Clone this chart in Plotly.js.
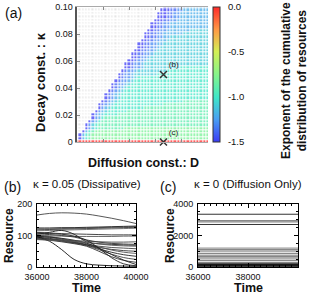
<!DOCTYPE html>
<html><head><meta charset="utf-8">
<script src="https://cdn.plot.ly/plotly-3.0.1.min.js"></script>
<style>html,body{margin:0;padding:0;background:#fff}#chart{width:310px;height:299px}</style>
</head><body><div id="chart"></div>
<script>
// ---------------- data ----------------
const kappaTickVals = [0, 0.02, 0.04, 0.06, 0.08, 0.10];
const kappaTickText = ['0', '0.02', '0.04', '0.06', '0.08', '0.10'];
const dTickVals = [0.2, 0.4, 0.6, 0.8];
const dStart = 0, dStep = 0.025, kStart = 0, kStep = 0.0025;
// heatmap rows (kappa = 0 first), run-length tokens "char*count"; '.' = no data
const zRowsRLE = [
  "r*41",
  ".*1 0 3 5 6 7*36",
  ".*1 0 3 5 6 7*36",
  ".*2 0 3 5 6 7*35",
  ".*3 0 2 4 5 6*8 7*26",
  ".*3 0 2 4 5 6*34",
  ".*4 0 2 3 5 6*33",
  ".*5 0 2 3 5 6*32",
  ".*5 0 2 3 4 5*4 6*28",
  ".*6 0 2 3 4 5*6 6*25",
  ".*7 0 2 3 4 5*10 6*20",
  ".*7 0 1 2 3 4 5*15 6*14",
  ".*8 0 1 2 3 4 5*20 6*8",
  ".*9 0 1 2 3 4 5*27",
  ".*9 0 1 2 3 4 5*27",
  ".*10 0 1 2 3 4 5*26",
  ".*11 0 1 2 3 4 5*25",
  ".*11 0 1 2 2 3 4 5*24",
  ".*12 0 1 2 2 3 4 5*23",
  ".*13 0 1 2 2 3 4 5*22",
  ".*13 0 1 2 2 3 4 4*6 5*16",
  ".*14 0 1 2 2 3 4 4*8 5*13",
  ".*15 0 0 1 2 2 3 4 4*10 5*9",
  ".*15 0 0 1 2 2 3 4 4*19",
  ".*16 0 0 1 2 2 3 4 4*18",
  ".*17 0 0 1 2 2 3 4 4*17",
  ".*17 0 0 1 1 2 2 3 4 4*16",
  ".*18 0 0 1 1 2 2 3 4 4*15",
  ".*19 0 0 1 1 2 2 3 4 4*14",
  ".*19 0 0 1 1 2 2 3 3 4*14",
  ".*20 0 0 1 1 2 2 3 3 4*13",
  ".*21 0 0 1 1 2 2 3 3 4*12",
  ".*21 0 0 1 1 2 2 3 3 3*4 4*8",
  ".*22 0 0 1 1 2 2 3 3 3*5 4*6",
  ".*23 0 0 1 1 2 2 3 3 3*10",
  ".*23 0 0 1 1 2 2 3 3 3*10",
  ".*24 0 0 0 1 1 2 2 3 3*9",
  ".*25 0 0 0 1 1 2 2 3 3*8",
  ".*25 0 0 0 1 1 2 2 3 3*8",
  ".*26 0 0 0 1 1 2 2 3*8",
  ".*27 0 0 0 1 1 2 2 3*7"
];
const levelChars  = ['0', '1', '2', '3', '4', '5', '6', '7', '8', '9', 'r'];
const levelValues = [-1.5, -1.4, -1.3, -1.2, -1.1, -1.0, -0.9, -0.8, -0.7, -0.6, 0.0];
const cbTickVals = [0, -0.5, -1.0, -1.5];
const cbTickText = ['0.0', '-0.5', '-1.0', '-1.5'];
const cbLineLevels = [-0.5, -1.0];
const markerD = [0.66, 0.66];
const markerK = [0.05, 0];
const markerLabels = ['(b)', '(c)'];

// panel (b): kappa = 0.05
const bTime = [36000, 36500, 37000, 37500, 38000, 38500, 39000, 39500, 40000];
const bSeries = [
  [165, 170, 172, 171, 168, 162, 155, 147, 138],
  [118, 119, 120, 121, 122, 123, 124, 125, 126],
  [121, 121, 122, 123, 124, 125, 126, 127, 128],
  [124, 124, 125, 125, 126, 127, 128, 129, 130],
  [115, 116, 117, 118, 119, 120, 121, 122, 123],
  [110, 108, 106, 105, 104, 103, 102, 102, 102],
  [100, 99, 98, 97, 97, 97, 97, 98, 98],
  [104, 110, 116, 104, 80, 74, 72, 70, 69],
  [98, 94, 88, 80, 72, 66, 62, 60, 58],
  [95, 91, 85, 78, 70, 62, 56, 52, 50],
  [101, 97, 90, 82, 74, 64, 54, 47, 43],
  [93, 89, 83, 77, 70, 58, 47, 39, 34],
  [91, 87, 82, 76, 68, 55, 41, 30, 24],
  [89, 85, 80, 74, 66, 50, 33, 21, 15],
  [97, 95, 91, 85, 76, 60, 40, 22, 8],
  [96, 82, 55, 24, 10, 6, 4, 3, 2],
  [87, 85, 83, 81, 78, 73, 69, 67, 66],
  [105, 103, 100, 95, 86, 79, 75, 73, 72],
  [90, 88, 86, 84, 82, 80, 79, 79, 80],
  [108, 106, 104, 98, 85, 60, 30, 10, 4]
];
// panel (c): kappa = 0, flat levels
const cTime = [36000, 40000];
const cLevels = [3350, 2950, 2870, 2700, 1200, 1110, 1015, 870, 750, 640, 510, 405, 280, 170, 100, 60];

// ---------------- styles ----------------
const W = 310, H = 299;
const FONT = 'Liberation Sans, Arial, Helvetica, sans-serif';
const bColors = ['#444', '#333', '#555', '#222', '#666', '#333', '#555', '#222', '#444', '#333',
                 '#555', '#222', '#444', '#333', '#222', '#111', '#555', '#333', '#444', '#222'];
const cColors = ['#333', '#888', '#888', '#333', '#999', '#888', '#666', '#888', '#777', '#333',
                 '#999', '#888', '#888', '#222', '#111', '#222'];
const cWidths = [1, 1.3, 1.3, 1, 1.2, 1.2, 1, 1.2, 1, 1, 1.2, 1.2, 1.2, 2, 2, 1.5];

const px = v => v / W, py = v => 1 - v / H;

// decode heatmap grid
function decodeRow(s) {
  const out = [];
  s.split(' ').forEach(tok => {
    const ch = tok[0];
    const n = tok.length > 2 ? parseInt(tok.slice(2), 10) : 1;
    for (let i = 0; i < n; i++) out.push(ch);
  });
  return out;
}
const grid = zRowsRLE.map(decodeRow);
const zVal = grid.map(r => r.map(ch => ch === '.' ? null : levelValues[levelChars.indexOf(ch)]));
const zMiss = grid.map(r => r.map(ch => ch === '.' ? 1 : null));

const colorscale = [
  [0.0, '#3b3bf5'],
  [0.17, '#4aa0f2'],
  [0.33, '#3fe6c8'],
  [0.5, '#86f58a'],
  [0.67, '#d4ef55'],
  [0.83, '#ff9a45'],
  [1.0, '#ff2a2a']
];

const cbX = px(213), cbThick = 7;
const cbTop = py(7), cbBottom = py(142);
const cbLen = cbTop - cbBottom;

const traces = [];
traces.push({
  type: 'heatmap', z: zMiss, x0: dStart, dx: dStep, y0: kStart, dy: kStep,
  colorscale: [[0, '#e6e6e6'], [1, '#e6e6e6']], showscale: false,
  xgap: 1.8, ygap: 1.8, hoverinfo: 'skip', xaxis: 'x', yaxis: 'y'
});
traces.push({
  type: 'heatmap', z: zVal, x0: dStart, dx: dStep, y0: kStart, dy: kStep,
  zmin: -1.5, zmax: 0, colorscale: colorscale, opacity: 0.75,
  xgap: 1, ygap: 1, hoverinfo: 'skip', xaxis: 'x', yaxis: 'y',
  colorbar: {
    x: cbX, xanchor: 'left', xref: 'paper', yref: 'paper',
    y: (cbTop + cbBottom) / 2, yanchor: 'middle', len: cbLen, lenmode: 'fraction',
    thickness: cbThick, thicknessmode: 'pixels', xpad: 0, ypad: 0,
    outlinewidth: 1, outlinecolor: '#333',
    tickvals: cbTickVals, ticktext: cbTickText, ticks: 'outside', ticklen: 6,
    tickcolor: 'rgba(0,0,0,0)', tickfont: {family: FONT, size: 9.5, color: '#111'}
  }
});
traces.push({
  type: 'scatter', mode: 'markers+text', x: markerD, y: markerK, text: markerLabels,
  textposition: 'top right', textfont: {family: FONT, size: 8, color: '#222'},
  marker: {symbol: 'x-thin', size: 7, line: {width: 1.5, color: '#333'}},
  cliponaxis: false, hoverinfo: 'skip', xaxis: 'x', yaxis: 'y'
});
bSeries.forEach((s, i) => traces.push({
  type: 'scatter', mode: 'lines', x: bTime, y: s, xaxis: 'x2', yaxis: 'y2',
  line: {color: bColors[i % bColors.length], width: 0.9, shape: 'spline', smoothing: 1},
  hoverinfo: 'skip'
}));
cLevels.forEach((v, i) => traces.push({
  type: 'scatter', mode: 'lines', x: cTime, y: cTime.map(() => v), xaxis: 'x3', yaxis: 'y3',
  line: {color: cColors[i], width: cWidths[i]}, hoverinfo: 'skip'
}));

const tickfont = {family: FONT, size: 9, color: '#111'};
const boxAxis = {
  showline: true, linecolor: '#000', linewidth: 1, mirror: 'allticks',
  ticks: 'inside', ticklen: 4, tickcolor: '#000', showgrid: false, zeroline: false,
  tickfont: tickfont
};
const layout = {
  width: W, height: H, margin: {l: 0, r: 0, t: 0, b: 0},
  paper_bgcolor: '#fff', plot_bgcolor: '#fff', showlegend: false,
  font: {family: FONT, color: '#111'},
  xaxis: {
    domain: [px(77), px(208)], range: [0, 1], anchor: 'y',
    showline: true, linecolor: '#aaa', linewidth: 1, mirror: 'ticks',
    ticks: 'inside', ticklen: 3, tickcolor: '#888', tickvals: dTickVals,
    showticklabels: false, showgrid: false, zeroline: false
  },
  yaxis: {
    domain: [py(142), py(7)], range: [0, 0.1], anchor: 'x',
    showline: true, linecolor: '#555', linewidth: 2.5,
    ticks: 'inside', ticklen: 3, tickcolor: '#888',
    tickvals: kappaTickVals, ticktext: kappaTickText, tickfont: tickfont,
    showgrid: false, zeroline: false
  },
  xaxis2: Object.assign({}, boxAxis, {
    domain: [px(37), px(136)], range: [36000, 40000], anchor: 'y2',
    tickvals: [36000, 38000, 40000], tickformat: 'd', ticklabelstandoff: 1,
    minor: {dtick: 250, ticklen: 2, ticks: 'inside', tickcolor: '#000'}
  }),
  yaxis2: Object.assign({}, boxAxis, {
    domain: [py(267), py(204)], range: [0, 200], anchor: 'x2',
    tickvals: [0, 100, 200], ticklabelstandoff: 2,
    minor: {dtick: 25, ticklen: 2, ticks: 'inside', tickcolor: '#000'}
  }),
  xaxis3: Object.assign({}, boxAxis, {
    domain: [px(198), px(298)], range: [36000, 40000], anchor: 'y3',
    tickvals: [36000, 38000, 40000], tickformat: 'd', ticklabelstandoff: 1,
    minor: {dtick: 250, ticklen: 2, ticks: 'inside', tickcolor: '#000'}
  }),
  yaxis3: Object.assign({}, boxAxis, {
    domain: [py(267), py(204)], range: [0, 4000], anchor: 'x3',
    tickvals: [0, 2000, 4000], tickformat: 'd', ticklabelstandoff: 2,
    minor: {dtick: 500, ticklen: 2, ticks: 'inside', tickcolor: '#000'}
  }),
  shapes: cbLineLevels.map(v => ({
    type: 'line', xref: 'paper', yref: 'paper',
    x0: cbX, x1: cbX + cbThick / W,
    y0: cbBottom + (v + 1.5) / 1.5 * cbLen, y1: cbBottom + (v + 1.5) / 1.5 * cbLen,
    line: {color: '#000', width: 1}
  })),
  annotations: [
    {text: '(a)', x: px(3), y: py(13), xanchor: 'left', yanchor: 'middle', size: 14},
    {text: '(b)', x: px(2), y: py(187), xanchor: 'left', yanchor: 'middle', size: 14},
    {text: '(c)', x: px(158), y: py(187), xanchor: 'left', yanchor: 'middle', size: 14},
    {text: 'κ = 0.05 (Dissipative)', x: px(86.5), y: py(184), xanchor: 'center', yanchor: 'middle', size: 11.5},
    {text: 'κ = 0 (Diffusion Only)', x: px(248), y: py(184), xanchor: 'center', yanchor: 'middle', size: 11.5},
    {text: '<b>Diffusion const.: D</b>', x: px(143), y: py(163), xanchor: 'center', yanchor: 'middle', size: 12.5},
    {text: '<b>Decay const. : κ</b>', x: px(40), y: py(82), xanchor: 'center', yanchor: 'middle', size: 13, textangle: -90},
    {text: '<b>Resource</b>', x: px(9), y: py(236), xanchor: 'center', yanchor: 'middle', size: 12, textangle: -90},
    {text: '<b>Resource</b>', x: px(170), y: py(236), xanchor: 'center', yanchor: 'middle', size: 12, textangle: -90},
    {text: '<b>Time</b>', x: px(86.5), y: py(288), xanchor: 'center', yanchor: 'middle', size: 12.5},
    {text: '<b>Time</b>', x: px(248), y: py(288), xanchor: 'center', yanchor: 'middle', size: 12.5},
    {text: '<b>Exponent of the cumulative<br>distribution of resources</b>', x: px(294), y: py(81),
     xanchor: 'center', yanchor: 'middle', size: 12, textangle: -90}
  ].map(a => ({
    text: a.text, x: a.x, y: a.y, xref: 'paper', yref: 'paper',
    xanchor: a.xanchor, yanchor: a.yanchor, showarrow: false, textangle: a.textangle || 0,
    font: {family: FONT, size: a.size, color: '#111'}
  }))
};

Plotly.newPlot('chart', traces, layout, {staticPlot: true, displayModeBar: false});
</script>
</body></html>
